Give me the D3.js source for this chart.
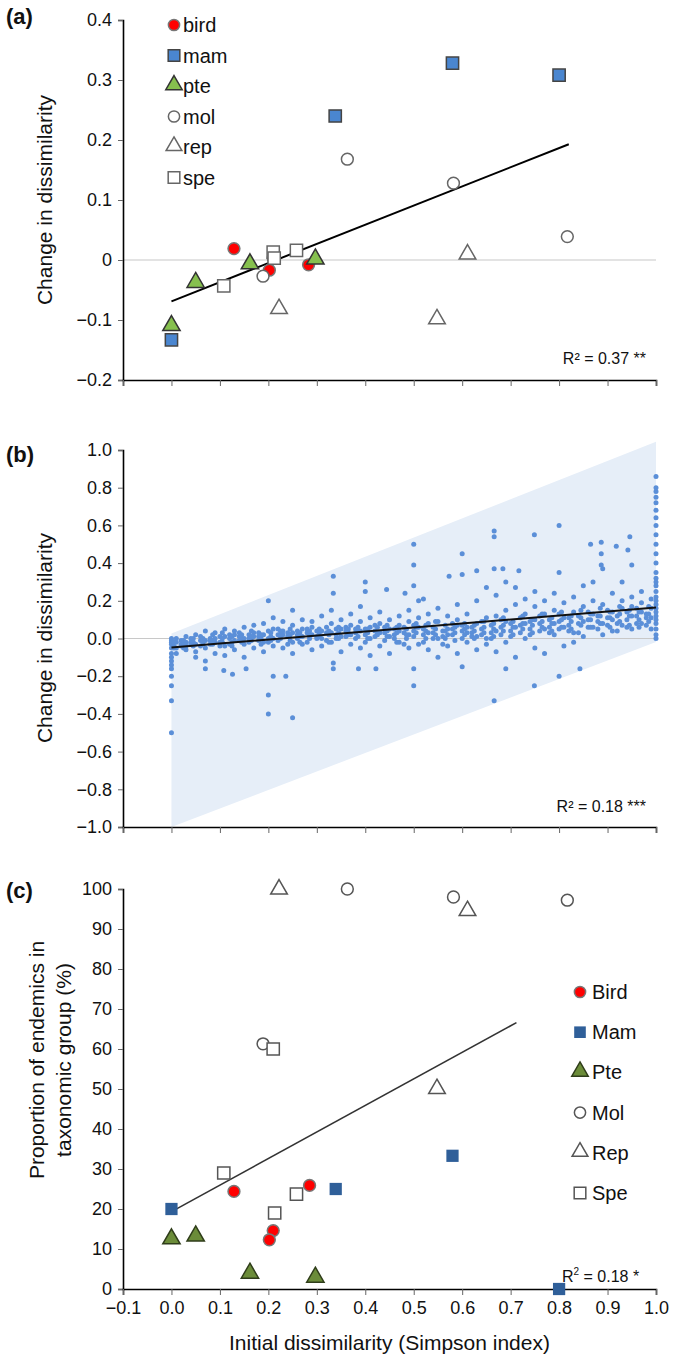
<!DOCTYPE html>
<html lang="en">
<head>
<meta charset="UTF-8">
<title>Dissimilarity panels</title>
<script src="https://cdnjs.cloudflare.com/ajax/libs/d3/7.8.5/d3.min.js"></script>
<style>
  body { margin: 0; background: #fff; font-family: 'Liberation Sans', Arial, sans-serif; }
  svg text { font-family: 'Liberation Sans', Arial, sans-serif; fill: #111; }
</style>
</head>
<body>
<div id="chart"></div>
<script>
// ---- panel (a): change in dissimilarity per taxon
const groups = ["bird", "mam", "pte", "mol", "rep", "spe"];
const groupsC = ["Bird", "Mam", "Pte", "Mol", "Rep", "Spe"];
const aBird = [[0.129, 0.019], [0.21, 0.003], [0.202, -0.017], [0.283, -0.008]];
const aMam = [[0, -0.133], [0.338, 0.24], [0.58, 0.328], [0.8, 0.308]];
const aPte = [[0, -0.111], [0.05, -0.039], [0.162, -0.008], [0.297, 0.0]];
const aMol = [[0.363, 0.168], [0.582, 0.128], [0.817, 0.039], [0.189, -0.027]];
const aRep = [[0.222, -0.083], [0.548, -0.1], [0.611, 0.008]];
const aSpe = [[0.108, -0.043], [0.21, 0.013], [0.212, 0.003], [0.258, 0.016]];
const aTrend = [[0, -0.069], [0.82, 0.193]];

// ---- panel (c): proportion of endemics
const cBird = [[0.129, 24.4], [0.21, 14.6], [0.202, 12.3], [0.285, 25.9]];
const cMam = [[0, 20], [0.339, 25], [0.58, 33.3], [0.8, 0]];
const cPte = [[0, 12.3], [0.05, 13], [0.162, 3.7], [0.297, 2.7]];
const cMol = [[0.363, 100], [0.582, 98], [0.817, 97.2], [0.189, 61.3]];
const cRep = [[0.222, 99.7], [0.611, 94.3], [0.548, 49.8]];
const cSpe = [[0.108, 29], [0.21, 60], [0.213, 19], [0.258, 23.7]];
const cTrend = [[0.004, 19.6], [0.712, 66.6]];

// ---- panel (b): pairwise cloud
const bTrend = [[0, -0.048], [1, 0.165]];
const bBand = [[0, 0.027, -1.0], [1, 1.044, -0.018]]; // x, upper, lower
const bColumn0 = [0.0, -0.01, -0.02, -0.03, -0.05, -0.08, -0.1, -0.12, -0.14, -0.16, -0.2, -0.25, -0.33, -0.5];
const bColumn1 = [0.0, 0.02, 0.05, 0.08, 0.1, 0.12, 0.14, 0.16, 0.18, 0.2, 0.22, 0.25, 0.28, 0.3, 0.32, 0.35, 0.4, 0.45, 0.5, 0.55, 0.6, 0.64, 0.68, 0.72, 0.75, 0.78, 0.8, 0.86];
const bOutliers = [[0.2, 0.2], [0.2, -0.3], [0.2, -0.4], [0.21, -0.2], [0.236, -0.2], [0.25, -0.42], [0.25, 0.15],
  [0.334, 0.33], [0.334, 0.24], [0.334, -0.16], [0.4, 0.3], [0.4, 0.25], [0.444, 0.26], [0.5, 0.5], [0.5, 0.39],
  [0.5, 0.28], [0.5, -0.25], [0.5, -0.16], [0.6, 0.45], [0.6, 0.34], [0.6, -0.15], [0.666, 0.57], [0.666, 0.54],
  [0.666, -0.33], [0.666, 0.37], [0.749, 0.55], [0.749, -0.25], [0.8, 0.6], [0.8, 0.35], [0.8, -0.2], [0.843, -0.16],
  [0.865, 0.5], [0.887, 0.51], [0.887, 0.45], [0.918, 0.49], [0.946, 0.54], [0.942, 0.47], [0.63, 0.36], [0.573, 0.33],
  [0.684, 0.37], [0.717, 0.36], [0.887, 0.39], [0.95, 0.39], [0.69, -0.16], [0.422, -0.16], [0.386, -0.16],
  [0.334, -0.13], [0.108, -0.17], [0.126, -0.19], [0.154, -0.16], [0.07, -0.16], [0.482, 0.24], [0.52, 0.21]];
const bSpread = [
  [0.01, [-0.02, -0.05, 0.0, -0.08]], [0.03, [0.01, -0.04, -0.06, -0.02]], [0.05, [-0.03, 0.02, -0.07, -0.1]],
  [0.07, [0.04, -0.01, -0.05, -0.12]], [0.09, [0.03, -0.02, -0.08, 0.0]], [0.11, [0.05, -0.04, 0.01, -0.09]],
  [0.13, [0.02, -0.06, 0.04, -0.01]], [0.15, [0.06, -0.03, 0.0, -0.1]], [0.17, [0.03, -0.05, 0.07, 0.01]],
  [0.19, [0.08, -0.02, 0.02, -0.07]], [0.21, [0.05, -0.04, 0.11, 0.0]], [0.23, [0.09, 0.02, -0.05, 0.04]],
  [0.25, [0.07, -0.02, 0.03, -0.08]], [0.27, [0.1, 0.01, -0.03, 0.05]], [0.29, [0.06, -0.06, 0.02, 0.09]],
  [0.31, [0.12, 0.0, 0.04, -0.04]], [0.33, [0.08, -0.02, 0.15, 0.03]], [0.35, [0.05, -0.07, 0.1, 0.01]],
  [0.37, [0.13, 0.02, -0.03, 0.07]], [0.39, [0.09, -0.05, 0.04, 0.17]], [0.41, [0.06, 0.0, -0.09, 0.11]],
  [0.43, [0.14, 0.03, -0.04, 0.08]], [0.45, [0.1, -0.08, 0.05, 0.01]], [0.47, [0.07, 0.12, -0.02, 0.04]],
  [0.49, [0.15, 0.02, -0.05, 0.09]], [0.51, [0.06, -0.03, 0.11, 0.2]], [0.53, [0.13, -0.06, 0.03, 0.08]],
  [0.55, [0.09, 0.0, -0.1, 0.16]], [0.57, [0.05, -0.04, 0.12, 0.02]], [0.59, [0.18, 0.07, -0.08, 0.1]],
  [0.61, [0.03, -0.02, 0.13, 0.06]], [0.63, [0.2, 0.08, -0.06, 0.01]], [0.65, [0.11, 0.0, 0.27, -0.03]],
  [0.67, [0.23, 0.12, -0.07, 0.04]], [0.69, [0.3, 0.09, -0.02, 0.15]], [0.71, [0.18, 0.06, -0.1, 0.27]],
  [0.73, [0.13, 0.0, 0.21, 0.08]], [0.75, [0.25, 0.1, -0.05, 0.17]], [0.77, [0.2, 0.05, -0.08, 0.13]],
  [0.79, [0.15, 0.02, 0.24, 0.08]], [0.81, [0.11, -0.04, 0.19, 0.06]], [0.83, [0.22, 0.03, 0.14, -0.02]],
  [0.85, [0.09, 0.17, 0.28, 0.01]], [0.87, [0.13, 0.06, 0.3, 0.2]], [0.89, [0.18, 0.08, 0.02, 0.37]],
  [0.91, [0.1, 0.24, 0.14, 0.04]], [0.93, [0.2, 0.07, 0.16, 0.3]], [0.95, [0.12, 0.22, 0.05, 0.17]],
  [0.97, [0.08, 0.19, 0.14, 0.25]], [0.99, [0.11, 0.16, 0.05, 0.21]]];
const bCore = [
  [0.02, [-0.03, -0.01, -0.04]], [0.04, [-0.02, 0.0, -0.03]], [0.06, [-0.01, -0.04, 0.01]], [0.08, [0.0, -0.03, -0.01]],
  [0.10, [-0.02, 0.01, -0.04]], [0.12, [0.0, 0.02, -0.03]], [0.14, [-0.01, 0.03, 0.01]], [0.16, [0.02, -0.02, 0.0]],
  [0.18, [0.01, 0.03, -0.01]], [0.20, [0.0, 0.04, -0.02]], [0.22, [0.02, -0.01, 0.05]], [0.24, [0.01, 0.03, -0.03]],
  [0.26, [0.04, 0.0, 0.02]], [0.28, [0.03, -0.02, 0.05]], [0.30, [0.01, 0.04, 0.0]], [0.32, [0.03, 0.06, -0.01]],
  [0.34, [0.02, 0.05, 0.0]], [0.36, [0.04, 0.01, 0.06]], [0.38, [0.03, 0.0, 0.05]], [0.40, [0.05, 0.02, -0.02]],
  [0.42, [0.04, 0.01, 0.07]], [0.44, [0.03, 0.06, -0.01]], [0.46, [0.05, 0.02, 0.0]], [0.48, [0.06, 0.03, -0.03]],
  [0.50, [0.04, 0.07, 0.01]], [0.52, [0.02, 0.05, -0.02]], [0.54, [0.03, 0.0, 0.06]], [0.56, [0.01, 0.04, -0.03]],
  [0.58, [0.02, 0.05, 0.08]], [0.60, [0.0, 0.04, 0.07]], [0.62, [0.03, 0.06, 0.01]], [0.64, [0.05, 0.02, 0.09]],
  [0.66, [0.03, 0.07, 0.0]], [0.68, [0.06, 0.02, 0.1]], [0.70, [0.04, 0.08, 0.01]], [0.72, [0.07, 0.03, 0.11]],
  [0.74, [0.05, 0.09, 0.02]], [0.76, [0.08, 0.04, 0.12]], [0.78, [0.06, 0.1, 0.03]], [0.80, [0.09, 0.05, 0.13]],
  [0.82, [0.07, 0.11, 0.04]], [0.84, [0.08, 0.12, 0.03]], [0.86, [0.1, 0.06, 0.14]], [0.88, [0.09, 0.05, 0.12]],
  [0.90, [0.11, 0.07, 0.15]], [0.92, [0.08, 0.12, 0.04]], [0.94, [0.1, 0.14, 0.06]], [0.96, [0.12, 0.08, 0.16]],
  [0.98, [0.11, 0.07, 0.13]]];
const bDense = [
  [0.005, [-0.04, -0.02, -0.05]], [0.025, [-0.03, -0.01, -0.05]], [0.045, [-0.02, -0.04, 0.0]], [0.065, [-0.03, 0.0, -0.02]],
  [0.085, [-0.01, -0.03, 0.02]], [0.105, [-0.02, 0.0, 0.03]], [0.125, [0.01, -0.02, -0.04]], [0.145, [0.0, 0.02, -0.02]],
  [0.165, [0.01, -0.01, 0.04]], [0.185, [0.02, 0.0, -0.03]], [0.205, [0.01, 0.03, -0.01]], [0.225, [0.0, 0.02, 0.04]],
  [0.245, [0.02, 0.05, -0.01]], [0.265, [0.01, 0.03, -0.02]], [0.285, [0.02, 0.0, 0.04]], [0.305, [0.03, 0.05, 0.01]],
  [0.325, [0.02, 0.04, -0.02]], [0.345, [0.03, 0.0, 0.06]], [0.365, [0.02, 0.05, 0.03]], [0.385, [0.04, 0.01, 0.06]],
  [0.405, [0.03, 0.05, 0.0]], [0.425, [0.02, 0.06, 0.03]], [0.445, [0.04, 0.01, 0.07]], [0.465, [0.03, 0.06, -0.02]],
  [0.485, [0.05, 0.02, 0.0]], [0.505, [0.03, 0.06, 0.08]], [0.525, [0.04, 0.0, 0.07]], [0.545, [0.02, 0.05, 0.09]],
  [0.565, [0.04, 0.07, 0.0]], [0.585, [0.03, 0.06, -0.01]], [0.605, [0.05, 0.08, 0.02]], [0.625, [0.04, 0.0, 0.07]],
  [0.645, [0.06, 0.03, 0.09]], [0.665, [0.05, 0.08, 0.01]], [0.685, [0.07, 0.04, 0.11]], [0.705, [0.06, 0.09, 0.02]],
  [0.725, [0.08, 0.05, 0.12]], [0.745, [0.07, 0.03, 0.1]], [0.765, [0.09, 0.06, 0.13]], [0.785, [0.08, 0.11, 0.04]],
  [0.805, [0.1, 0.06, 0.14]], [0.825, [0.09, 0.12, 0.05]], [0.845, [0.11, 0.07, 0.15]], [0.865, [0.1, 0.13, 0.06]],
  [0.885, [0.12, 0.08, 0.16]], [0.905, [0.11, 0.06, 0.14]], [0.925, [0.13, 0.09, 0.17]], [0.945, [0.12, 0.07, 0.15]],
  [0.965, [0.14, 0.1, 0.06]], [0.985, [0.13, 0.09, 0.17]]];

const xTicks = [-0.1, 0, 0.1, 0.2, 0.3, 0.4, 0.5, 0.6, 0.7, 0.8, 0.9, 1.0];
const aTicks = [-0.2, -0.1, 0, 0.1, 0.2, 0.3, 0.4];
const bTicks = [-1, -0.8, -0.6, -0.4, -0.2, 0, 0.2, 0.4, 0.6, 0.8, 1.0];
const cTicks = [0, 10, 20, 30, 40, 50, 60, 70, 80, 90, 100];

const W = 675, H = 1363;
const svg = d3.select("#chart").append("svg").attr("width", W).attr("height", H);
const x = d3.scaleLinear().domain([-0.1, 1.0]).range([123, 656]);
const yA = d3.scaleLinear().domain([-0.2, 0.4]).range([380, 20]);
const yB = d3.scaleLinear().domain([-1, 1]).range([827, 450]);
const yC = d3.scaleLinear().domain([0, 100]).range([1289, 889]);

function axes(y, ticks, fmt, showX) {
  const g = svg.append("g");
  g.append("g").attr("transform", `translate(${x(-0.1)},0)`)
    .call(d3.axisLeft(y).tickValues(ticks).tickFormat(fmt).tickSize(5).tickPadding(6));
  g.append("g").attr("transform", `translate(0,${y.range()[0]})`)
    .call(d3.axisBottom(x).tickValues(xTicks).tickFormat(showX ? d3.format(".1f") : "").tickSize(6).tickPadding(6));
  g.selectAll(".domain").attr("stroke", "#000").attr("stroke-width", 1.6);
  g.selectAll(".tick line").attr("stroke", "#666");
  g.selectAll(".tick text").style("font-size", "18px").attr("fill", "#111");
  return g;
}

function zeroLine(y) {
  svg.append("line").attr("x1", x(-0.1)).attr("x2", x(1.0)).attr("y1", y(0)).attr("y2", y(0))
    .attr("stroke", "#c8c8c8").attr("stroke-width", 1.2);
}

const sym = {
  bird: d3.symbolCircle, mam: d3.symbolSquare, pte: d3.symbolTriangle,
  mol: d3.symbolCircle, rep: d3.symbolTriangle, spe: d3.symbolSquare
};
const sizeOf = { bird: 110, mam: 150, pte: 130, mol: 110, rep: 120, spe: 150 };
const styleA = {
  bird: ["#ff0000", "#777"], mam: ["#4a86d0", "#444"], pte: ["#86c04e", "#333"],
  mol: ["#fff", "#666"], rep: ["#fff", "#666"], spe: ["#fff", "#666"]
};
const styleC = {
  bird: ["#ff0000", "#777"], mam: ["#2f5f99", "none"], pte: ["#6b8c39", "#2f3d1a"],
  mol: ["#fff", "#555"], rep: ["#fff", "#555"], spe: ["#fff", "#555"]
};

function marker(g, k, cx, cy, st, scale) {
  const s = sizeOf[k] * (scale || 1);
  const off = sym[k] === d3.symbolTriangle ? -1 : 0;
  g.append("path").attr("d", d3.symbol(sym[k], s)())
    .attr("transform", `translate(${cx},${cy + off})`)
    .attr("fill", st[k][0]).attr("stroke", st[k][1]).attr("stroke-width", 1.5);
}

function plotGroups(sets, y, st) {
  const g = svg.append("g");
  groups.forEach((k, i) => sets[i].forEach(d => marker(g, k, x(d[0]), y(d[1]), st)));
}

function trend(pts, y, w, col) {
  svg.append("path").attr("d", d3.line().x(d => x(d[0])).y(d => y(d[1]))(pts))
    .attr("stroke", col).attr("stroke-width", w).attr("fill", "none");
}

function yTitle(lines, cy) {
  lines.forEach((t, i) => {
    svg.append("text").attr("transform", `translate(${lines.length === 1 ? 52 : 44 + i * 27},${cy}) rotate(-90)`)
      .attr("text-anchor", "middle").style("font-size", "21px").text(t);
  });
}

function panelLabel(t, yy) {
  svg.append("text").attr("x", 6).attr("y", yy).style("font-size", "22px").style("font-weight", "bold").text(t);
}

// ===== (a)
zeroLine(yA);
axes(yA, aTicks, d => d === 0 ? "0" : d3.format(".1f")(d), false);
trend(aTrend, yA, 2, "#000");
plotGroups([aBird, aMam, aPte, aMol, aRep, aSpe], yA, styleA);
groups.forEach((k, i) => {
  const yy = 25 + i * 30.5;
  marker(svg, k, 174, yy, styleA, 0.9);
  svg.append("text").attr("x", 183).attr("y", yy + 7).style("font-size", "20px").text(k);
});
svg.append("text").attr("x", 646).attr("y", 364).attr("text-anchor", "end").style("font-size", "16px").text("R² = 0.37 **");
yTitle(["Change in dissimilarity"], 200);
panelLabel("(a)", 24);

// ===== (b)
svg.append("path")
  .attr("d", d3.area().x(d => x(d[0])).y0(d => yB(d[2])).y1(d => yB(d[1]))(bBand))
  .attr("fill", "#e6eef8");
zeroLine(yB);
axes(yB, bTicks, d3.format(".1f"), false);
const cloud = [];
bColumn0.forEach(v => cloud.push([0, v]));
bColumn1.forEach(v => cloud.push([1, v]));
bOutliers.forEach(d => cloud.push(d));
bSpread.concat(bCore, bDense).forEach(([xv, ys]) => ys.forEach(v => cloud.push([xv, v])));
svg.append("g").selectAll("circle").data(cloud).join("circle")
  .attr("cx", d => x(d[0])).attr("cy", d => yB(d[1])).attr("r", 2.5).attr("fill", "#5b8fd8");
trend(bTrend, yB, 2, "#111");
svg.append("text").attr("x", 646).attr("y", 812).attr("text-anchor", "end").style("font-size", "16px").text("R² = 0.18 ***");
yTitle(["Change in dissimilarity"], 638);
panelLabel("(b)", 462);

// ===== (c)
axes(yC, cTicks, d3.format("d"), true);
trend(cTrend, yC, 1.6, "#333");
plotGroups([cBird, cMam, cPte, cMol, cRep, cSpe], yC, styleC);
groupsC.forEach((t, i) => {
  const yy = 992 + i * 40.2;
  marker(svg, groups[i], 580, yy, styleC, 0.9);
  svg.append("text").attr("x", 592).attr("y", yy + 7).style("font-size", "20px").text(t);
});
const r2 = svg.append("text").attr("x", 562).attr("y", 1282).style("font-size", "16px");
r2.append("tspan").text("R");
r2.append("tspan").attr("dy", -7).style("font-size", "10px").text("2");
r2.append("tspan").attr("dy", 7).text(" = 0.18 *");
yTitle(["Proportion of endemics in", "taxonomic group (%)"], 1060);
panelLabel("(c)", 898);
svg.append("text").attr("x", x(0.45)).attr("y", 1350).attr("text-anchor", "middle")
  .style("font-size", "21px").text("Initial dissimilarity (Simpson index)");
</script>
</body>
</html>
